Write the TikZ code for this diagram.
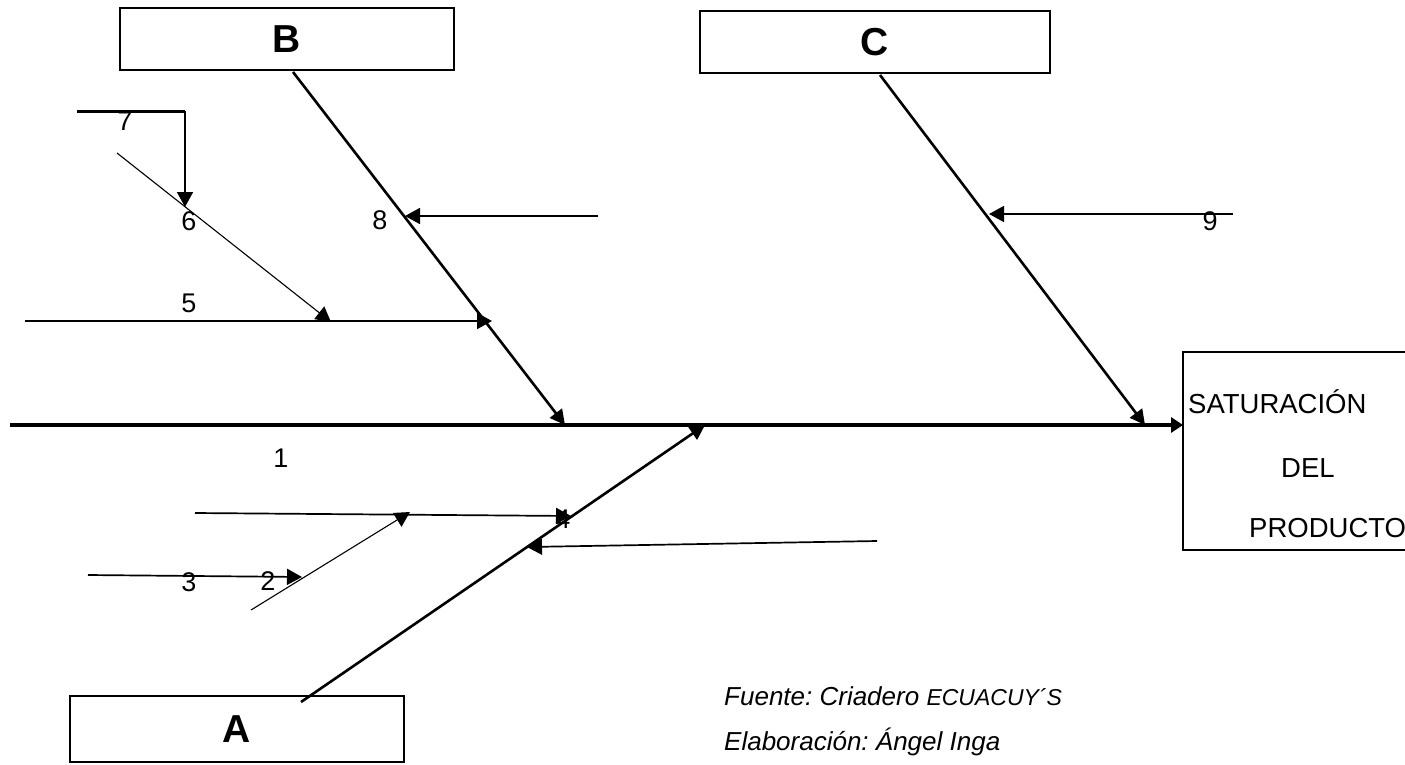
\documentclass[tikz,border=0pt]{standalone}
\usepackage{fontspec}
\setmainfont{Liberation Sans}
\usetikzlibrary{arrows.meta}
\frenchspacing
\begin{document}
\begin{tikzpicture}[x=1pt,y=-1pt,
  catbox/.style={draw,line width=1.2pt,minimum height=62pt,inner sep=0pt,font=\fontsize{39}{42}\selectfont\bfseries},
  spine/.style={line width=3.2pt,-{Triangle[length=12pt,width=15pt]}},
  bone/.style={line width=2.6pt,-{Triangle[length=15pt,width=15pt]}},
  sub/.style={line width=1.7pt,-{Triangle[length=15pt,width=16pt]}},
  thinsub/.style={line width=1.1pt,-{Triangle[length=15pt,width=16pt]}},
  num/.style={font=\fontsize{27}{30}\selectfont,inner sep=0pt},
  eff/.style={font=\fontsize{27.5}{30}\selectfont,inner sep=0pt,anchor=base west},
  foot/.style={inner sep=0pt,anchor=base west,font=\fontsize{26}{30}\selectfont\itshape}]
\useasboundingbox (0,0) rectangle (1405,764);
% category boxes
\node[catbox,minimum width=334pt] (B) at (287,39) {B};
\node[catbox,minimum width=350pt] (C) at (875,42) {C};
\node[catbox,minimum width=334pt,minimum height=66pt] (A) at (237,729) {A};
% effect box (open on the right)
\draw[line width=1.2pt] (1410,352) -- (1183,352) coordinate (effTL) -- (1183,550) coordinate (effBL) -- (1410,550);
\coordinate (eff) at (1183,425);
\node[eff] (s1) at (1188,413) {SATURACIÓN};
\node[eff] (s2) at (1281,477) {DEL};
\node[eff] (s3) at (1249,537) {PRODUCTO};
% spine
\coordinate (tail) at (10,425);
\draw[spine] (tail) -- (eff);
% main bones
\coordinate (bTop) at (293,72);
\coordinate (bEnd) at (565,425);
\coordinate (cTop) at (880,75);
\coordinate (cEnd) at (1145,425);
\coordinate (aBot) at (301,702);
\coordinate (aEnd) at (705,425);
\draw[bone] (bTop) -- (bEnd);
\draw[bone] (cTop) -- (cEnd);
\draw[bone] (aBot) -- (aEnd);
% B sub causes
\coordinate (s8a) at (598,216); \coordinate (s8b) at (405,216);
\draw[sub] (s8a) -- (s8b);
\coordinate (s5a) at (25,321); \coordinate (s5b) at (492,321);
\draw[sub] (s5a) -- (s5b);
\coordinate (s6a) at (117,153); \coordinate (s6b) at (331,322);
\draw[thinsub] (s6a) -- (s6b);
\coordinate (s7a) at (77,111); \coordinate (s7c) at (185,111); \coordinate (s7b) at (185,207);
\draw[line width=3pt] (s7a) -- (s7c);
\draw[sub] (s7c) -- (s7b);
% C sub cause
\coordinate (s9a) at (1233,214); \coordinate (s9b) at (989,214);
\draw[sub] (s9a) -- (s9b);
% A sub causes
\coordinate (s4a) at (195,513); \coordinate (s4b) at (571,516);
\draw[sub] (s4a) -- (s4b);
\coordinate (s2a) at (251,610); \coordinate (s2b) at (410,512);
\draw[thinsub] (s2a) -- (s2b);
\coordinate (s3a) at (88,575); \coordinate (s3b) at (302,577);
\draw[sub] (s3a) -- (s3b);
\coordinate (sxa) at (877,541); \coordinate (sxb) at (527,547);
\draw[sub] (sxa) -- (sxb);
% numbers
\node[num] (n1) at (281,458) {1};
\node[num] (n2) at (268,581) {2};
\node[num] (n3) at (189,582) {3};
\node[num] (n4) at (563,519) {4};
\node[num] (n5) at (189,303) {5};
\node[num] (n6) at (189,221) {6};
\node[num] (n7) at (125,121) {7};
\node[num] (n8) at (380,220) {8};
\node[num] (n9) at (1210,221) {9};
% source
\node[foot] (src) at (724,705) {Fuente: Criadero {\fontsize{23}{26}\selectfont ECUACUY´S}};
\node[foot] (elab) at (724,750) {Elaboración: Ángel Inga};
\end{tikzpicture}
\end{document}
